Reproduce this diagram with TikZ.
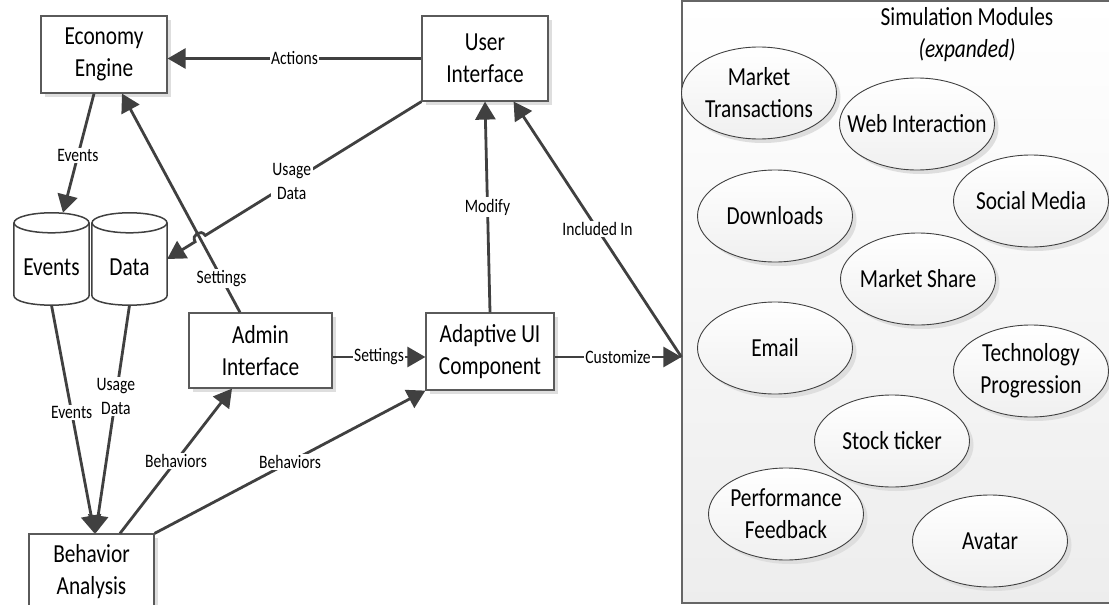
\documentclass[tikz,border=0pt]{standalone}
\usepackage{fontspec}
\setmainfont{Carlito}[FakeStretch=0.82]
\usetikzlibrary{arrows.meta,shapes.geometric,shadows,calc}
\definecolor{ink}{HTML}{404040}
\definecolor{edgegray}{HTML}{5A5A5A}
\newcommand\boxfont{\fontsize{26}{32}\selectfont}
\newcommand\lblfont{\fontsize{19}{24}\selectfont}
\begin{document}
\begin{tikzpicture}[x=1pt,y=-1pt,
  softshadow/.style={drop shadow={shadow xshift=4pt,shadow yshift=-4pt,fill=black!13,opacity=1}},
  box/.style={draw=edgegray,line width=1.2pt,fill=white,align=center,font=\boxfont,
    inner sep=0pt,softshadow},
  dbnode/.style={minimum width=75pt,minimum height=92pt,inner sep=0pt,font=\boxfont,
    text height=33pt,text depth=0pt},
  dbline/.style={draw=ink,line width=1.5pt},
  module/.style={ellipse,draw=ink,line width=0.9pt,minimum width=155pt,minimum height=92pt,
    inner xsep=-40pt,inner ysep=0pt,align=center,font=\boxfont,
    top color=white,bottom color=black!6,softshadow},
  simbox/.style={draw=black!60,line width=1.2pt,top color=white,bottom color=black!7,
    minimum width=438pt,minimum height=602pt,inner sep=0pt},
  flow/.style={draw=ink,line width=2.8pt,-{Triangle[length=18pt,width=20pt]}},
  lbl/.style={fill=white,inner sep=1.5pt,font=\lblfont,align=center,text=black}]

\useasboundingbox (0,0) rectangle (1109,605);
\clip (0,0) rectangle (1109,605);

% simulation module container
\node[simbox] (sim) at (901,302) {};
\node[font=\boxfont,align=center] (simtitle) at (967,35) {Simulation Modules\\\textit{(expanded)}};
\coordinate (simin) at ([yshift=-55pt]sim.west);

\node[module] (mt)  at (759,93)   {Market\\Transactions};
\node[module] (web) at (917,124)  {Web Interaction};
\node[module] (soc) at (1031,201) {Social Media};
\node[module] (dl)  at (775,216)  {Downloads};
\node[module] (ms)  at (918,279)  {Market Share};
\node[module] (em)  at (775,348)  {Email};
\node[module] (tp)  at (1031,371) {Technology\\Progression};
\node[module] (st)  at (892,441)  {Stock ticker};
\node[module] (pf)  at (786,514)  {Performance\\Feedback};
\node[module] (av)  at (990,541)  {Avatar};

% process boxes
\node[box,minimum width=126pt,minimum height=77pt] (econ)  at (104,54.5)  {Economy\\Engine};
\node[box,minimum width=126pt,minimum height=85pt] (ui)    at (485,58.5)  {User\\Interface};
\node[box,minimum width=143pt,minimum height=75pt] (admin) at (260.5,350.5) {Admin\\Interface};
\node[box,minimum width=128pt,minimum height=77pt] (adapt) at (490,351.5) {Adaptive UI\\Component};
\node[box,minimum width=125pt,minimum height=76pt] (ba)    at (91.5,572)  {Behavior\\Analysis};

% data stores
\node[dbnode] (evdb)   at (51.5,259)  {Events};
\node[dbnode] (datadb) at (129.5,259) {Data};
\foreach \X in {evdb,datadb}{
  \draw[dbline] ($(\X.north west)+(0,10)$) -- ($(\X.south west)+(0,-10)$)
    .. controls ($(\X.south west)+(0,3.3)$) and ($(\X.south east)+(0,3.3)$) ..
    ($(\X.south east)+(0,-10)$) -- ($(\X.north east)+(0,10)$);
  \draw[dbline] ($(\X.north)+(0,10)$) ellipse[x radius=37.5,y radius=10];
}

% connectors
\draw[flow] (ui.west) -- (ui.west -| econ.east) node[lbl,pos=0.5] {Actions};
\draw[flow] ([xshift=-10pt]econ.south) -- ([xshift=11.5pt]evdb.north) node[lbl,pos=0.52] {Events};

\coordinate (s0) at ([xshift=-20.5pt]admin.north);
\coordinate (s1) at ([xshift=18pt]econ.south);
\draw[flow] (s0) -- (s1) node[lbl,pos=0.156] {Settings};

\coordinate (u0) at (ui.south west);
\coordinate (d0) at (datadb.east);
\coordinate (J) at (intersection of u0--d0 and s0--s1);
\coordinate (jA) at ($(J)!6pt!(u0)$);
\coordinate (jB) at ($(J)!6pt!(d0)$);
\draw[flow] (u0) -- node[lbl,pos=0.6] {Usage\\Data} (jA)
  .. controls ($(jA)!8pt!-90:(J)$) and ($(jB)!8pt!90:(J)$) .. (jB) -- (d0);

\draw[flow] (evdb.south) -- ([xshift=3pt]ba.north) node[lbl,pos=0.47] {Events};
\draw[flow] (datadb.south) -- ([xshift=4pt]ba.north) node[lbl,pos=0.40] {Usage\\Data};
\draw[flow] ([xshift=28.5pt]ba.north) -- ([xshift=-28.5pt]admin.south) node[lbl,pos=0.5] {Behaviors};
\draw[flow] (ba.north east) -- (adapt.south west) node[lbl,pos=0.5] {Behaviors};

\coordinate (a1) at ([yshift=-6.5pt]admin.east);
\draw[flow] (a1) -- (a1 -| adapt.west) node[lbl,pos=0.5] {Settings};
\draw[flow] (adapt.north) -- (ui.south) node[lbl,pos=0.5] {Modify};

\coordinate (c0) at ([yshift=-5.5pt]adapt.east);
\draw[flow] (c0) -- (simin) node[lbl,pos=0.5] {Customize};
\draw[flow] (simin) -- ([xshift=-35pt]ui.south east) node[lbl,pos=0.5] {Included In};

\end{tikzpicture}
\end{document}
